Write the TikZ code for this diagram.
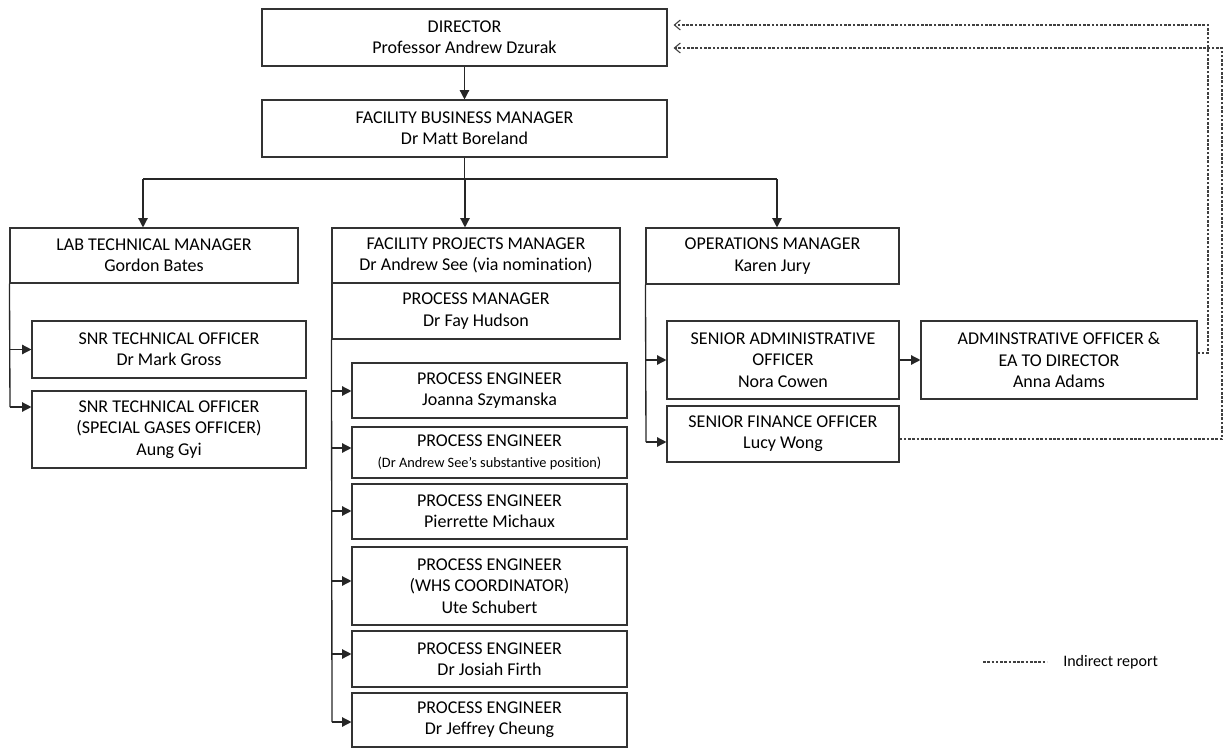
\documentclass[tikz,border=0pt]{standalone}
\usepackage{fontspec}
\setmainfont{Carlito}[Ligatures=NoCommon]
\usetikzlibrary{arrows.meta,calc}
\tikzset{
  box/.style={draw=black!80, line width=0.8pt, align=center, inner sep=1pt, text=black,
    font=\fontsize{13.5}{16}\selectfont},
  ln/.style={draw=black!85, line width=1pt},
  arr/.style={ln, -{Triangle[length=7pt,width=7pt]}},
  dsh/.style={draw=black!75, line width=0.8pt, dash pattern=on 2pt off 1.2pt},
  darr/.style={dsh, -{Straight Barb[length=4.5pt,width=7.5pt]}},
}
\newcommand{\orgbox}[6]{\node[box, minimum width={(#4-#2)*0.75pt}, minimum height={(#5-#3)*0.75pt}] (#1) at ({(#2+#4)/2},{(#3+#5)/2}) {#6};}
\begin{document}
\begin{tikzpicture}[x=0.75pt,y=-0.75pt]
\useasboundingbox (0,0) rectangle (1225,750);
\orgbox{dir}{262}{9}{667}{66}{DIRECTOR\\Professor Andrew Dzurak}
\orgbox{fbm}{262}{100}{667}{157}{FACILITY BUSINESS MANAGER\\Dr Matt Boreland}
\orgbox{lab}{10}{228}{298}{283}{LAB TECHNICAL MANAGER\\Gordon Bates}
\orgbox{fpm}{332}{228}{620}{283}{FACILITY PROJECTS MANAGER\\Dr Andrew See (via nomination)}
\orgbox{pm}{332}{283}{620}{339}{PROCESS MANAGER\\Dr Fay Hudson}
\orgbox{ops}{646}{228}{899}{284}{OPERATIONS MANAGER\\Karen Jury}
\orgbox{snra}{32}{321}{306}{378}{SNR TECHNICAL OFFICER\\Dr Mark Gross}
\orgbox{snrb}{32}{391}{306}{468}{SNR TECHNICAL OFFICER\\(SPECIAL GASES OFFICER)\\Aung Gyi}
\orgbox{sao}{667}{321}{899}{399}{SENIOR ADMINISTRATIVE\\OFFICER\\Nora Cowen}
\orgbox{adm}{921}{321}{1197}{399}{ADMINSTRATIVE OFFICER \&\\EA TO DIRECTOR\\Anna Adams}
\orgbox{sfo}{667}{406}{899}{462}{SENIOR FINANCE OFFICER\\Lucy Wong}
\orgbox{pea}{352}{363}{627}{418}{PROCESS ENGINEER\\Joanna Szymanska}
\orgbox{peb}{352}{427}{627}{478}{PROCESS ENGINEER\\{\fontsize{10.75}{13}\selectfont (Dr Andrew See’s substantive position)}}
\orgbox{pec}{352}{484}{627}{539}{PROCESS ENGINEER\\Pierrette Michaux}
\orgbox{ped}{352}{547}{627}{625}{PROCESS ENGINEER\\(WHS COORDINATOR)\\Ute Schubert}
\orgbox{pee}{352}{631}{627}{687}{PROCESS ENGINEER\\Dr Josiah Firth}
\orgbox{pef}{352}{693}{627}{747}{PROCESS ENGINEER\\Dr Jeffrey Cheung}
% top connectors
\draw[arr] (dir) -- (fbm);
\coordinate (jl) at (143,179);
\coordinate (jm) at (465,179);
\coordinate (jr) at (777,179);
\draw[ln] (fbm.south) -- (fbm.south |- jm);
\draw[ln] (jl) -- (jr);
\draw[arr] (jl) -- (jl |- lab.north);
\draw[arr] (jm) -- (jm |- fpm.north);
\draw[arr] (jr) -- (jr |- ops.north);
% lab branch
\coordinate (lb) at (10,407);
\draw[ln] (lab.south west) -- (lb);
\draw[arr] (lab.south west |- snra.west) -- (snra.west);
\draw[arr] (lb) -- (lb -| snrb.west);
% process engineers
\coordinate (pb) at (332,722);
\coordinate (pa1) at (332,391);
\coordinate (pa2) at (332,448);
\coordinate (pa3) at (332,511);
\coordinate (pa4) at (332,581);
\coordinate (pa5) at (332,654);
\draw[ln] (pm.south west) -- (pb);
\draw[arr] (pa1) -- (pa1 -| pea.west);
\draw[arr] (pa2) -- (pa2 -| peb.west);
\draw[arr] (pa3) -- (pa3 -| pec.west);
\draw[arr] (pa4) -- (pa4 -| ped.west);
\draw[arr] (pa5) -- (pa5 -| pee.west);
\draw[arr] (pb) -- (pb -| pef.west);
% operations branch
\coordinate (ob) at (646,442);
\draw[ln] (ops.south west) -- (ob);
\draw[arr] (ops.south west |- sao.west) -- (sao.west);
\draw[arr] (ob) -- (ob -| sfo.west);
\draw[arr] (sao) -- (adm);
% indirect reports
\coordinate (da) at (1208,353);
\coordinate (dat) at (1208,25);
\coordinate (db) at (1222,439);
\coordinate (dbt) at (1222,48);
\draw[darr] ([yshift=5.25pt]adm.east) -- (da) -- (dat) -- ([xshift=4.5pt,yshift=9.375pt]dir.east);
\draw[darr] ([yshift=-3.75pt]sfo.east) -- (db) -- (dbt) -- ([xshift=4.5pt,yshift=-7.875pt]dir.east);
% legend
\coordinate (lga) at (983,662);
\coordinate (lgb) at (1047,662);
\draw[dsh] (lga) -- (lgb);
\node[anchor=west, inner sep=0pt, font=\fontsize{12}{14}\selectfont] (lgt) at (1063,662) {Indirect report};
\end{tikzpicture}
\end{document}
